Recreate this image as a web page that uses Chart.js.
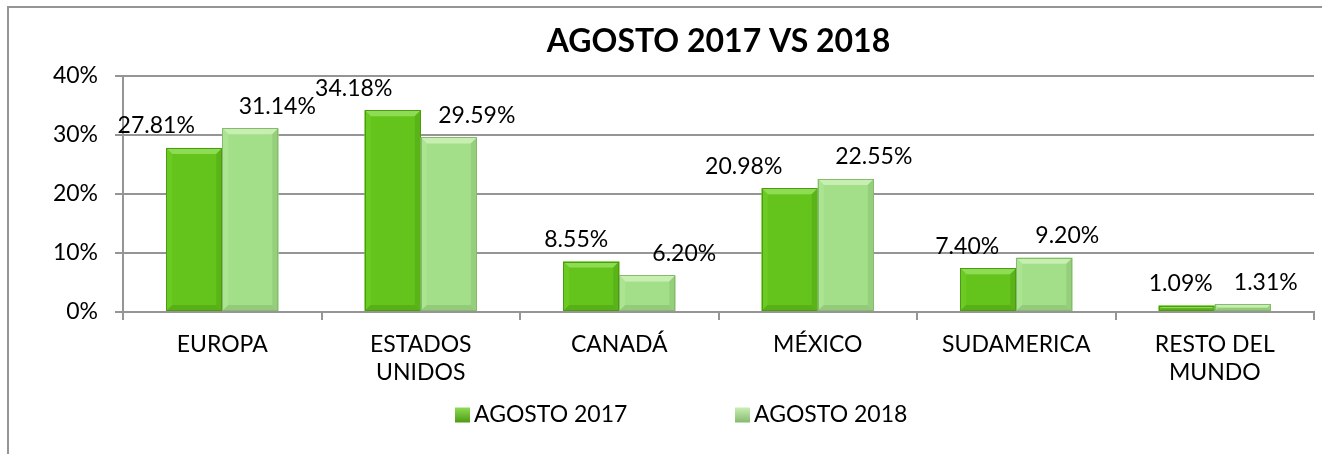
<!DOCTYPE html>
<html>
<head>
<meta charset="utf-8">
<script src="https://cdn.jsdelivr.net/npm/chart.js@4.4.1/dist/chart.umd.min.js"></script>
<style>
  html, body { margin: 0; padding: 0; background: #fff; }
  #wrap { width: 1322px; height: 454px; position: relative; }
</style>
</head>
<body>
<div id="wrap"><canvas id="chart" width="1322" height="454"></canvas></div>
<script>
const categories = ["EUROPA", ["ESTADOS", "UNIDOS"], "CANADÁ", "MÉXICO", "SUDAMERICA", ["RESTO DEL", "MUNDO"]];
const agosto2017 = [27.81, 34.18, 8.55, 20.98, 7.40, 1.09];
const agosto2018 = [31.14, 29.59, 6.20, 22.55, 9.20, 1.31];
const yTickValues = [0, 10, 20, 30, 40];
const seriesNames = ["AGOSTO 2017", "AGOSTO 2018"];

// excel moved the value labels by hand, these are the sideways nudges (px)
const labelNudge = [
    [-38, -39, -15, -46, -21, -6],
    [27, 28, 37, 28, 23, 23],
];

const GRID = "#959595";
const FONT = "Lato";

// colours for the bevelled bars: body, top, left, right, bottom, outline
const shades = [
    { body: "#64c41c", top: "#8edb54", left: "#6ccb23", right: "#5ab418", bottom: "#58b017", edge: "#4d9a13" },
    { body: "#a3df88", top: "#c8efb2", left: "#ace591", right: "#95cf7c", bottom: "#93cb7a", edge: "#88b970" },
];

Chart.defaults.font.family = FONT;
Chart.defaults.font.size = 23;
Chart.defaults.color = "#000";

const framePlugin = {
    id: "frame",
    beforeDraw(chart) {
        const { ctx, width, height } = chart;
        ctx.save();
        ctx.fillStyle = "#fff";
        ctx.fillRect(0, 0, width, height);
        ctx.strokeStyle = GRID;
        ctx.lineWidth = 2;
        ctx.beginPath();
        ctx.moveTo(8, height);
        ctx.lineTo(8, 7);
        ctx.lineTo(width, 7);
        ctx.stroke();
        ctx.restore();
    },
};

const bevelPlugin = {
    id: "bevel",
    afterDatasetsDraw(chart) {
        const ctx = chart.ctx;
        chart.data.datasets.forEach((ds, d) => {
            const s = shades[d];
            chart.getDatasetMeta(d).data.forEach((bar) => {
                const x0 = bar.x - bar.width / 2;
                const x1 = bar.x + bar.width / 2;
                const y0 = bar.y;
                const y1 = bar.base;
                const b = Math.min(6, (y1 - y0) / 2);
                ctx.save();
                ctx.fillStyle = s.body;
                ctx.fillRect(x0, y0, x1 - x0, y1 - y0);
                const poly = (pts, col) => {
                    ctx.fillStyle = col;
                    ctx.beginPath();
                    ctx.moveTo(pts[0][0], pts[0][1]);
                    pts.slice(1).forEach((p) => ctx.lineTo(p[0], p[1]));
                    ctx.closePath();
                    ctx.fill();
                };
                poly([[x0, y0], [x1, y0], [x1 - b, y0 + b], [x0 + b, y0 + b]], s.top);
                poly([[x0, y0], [x0 + b, y0 + b], [x0 + b, y1 - b], [x0, y1]], s.left);
                poly([[x1, y0], [x1, y1], [x1 - b, y1 - b], [x1 - b, y0 + b]], s.right);
                poly([[x0, y1], [x0 + b, y1 - b], [x1 - b, y1 - b], [x1, y1]], s.bottom);
                ctx.strokeStyle = s.edge;
                ctx.lineWidth = 1;
                ctx.strokeRect(Math.round(x0) + 0.5, Math.round(y0) + 0.5, Math.round(x1 - x0) - 1, Math.round(y1 - y0) - 1);
                ctx.restore();
            });
        });

        // value labels
        ctx.save();
        ctx.font = "23px " + FONT;
        ctx.fillStyle = "#000";
        ctx.textAlign = "center";
        ctx.textBaseline = "middle";
        chart.data.datasets.forEach((ds, d) => {
            chart.getDatasetMeta(d).data.forEach((bar, i) => {
                ctx.fillText(ds.data[i].toFixed(2) + "%", bar.x + labelNudge[d][i], bar.y - 22);
            });
        });
        ctx.restore();
    },
};

const legendPlugin = {
    id: "excelLegend",
    afterDraw(chart) {
        const ctx = chart.ctx;
        ctx.save();
        ctx.font = "23px " + FONT;
        ctx.textBaseline = "middle";
        const box = 15, gap = 4, pitch = 280;
        let x = chart.width / 2 - 206;
        const y = 415;
        seriesNames.forEach((name, d) => {
            const s = shades[d];
            const g = ctx.createLinearGradient(0, y - box / 2, 0, y + box / 2);
            g.addColorStop(0, s.top);
            g.addColorStop(1, s.edge);
            ctx.fillStyle = g;
            ctx.fillRect(x, y - box / 2, box, box);
            ctx.fillStyle = "#000";
            ctx.textAlign = "left";
            ctx.fillText(name, x + box + gap, y);
            x += pitch;
        });
        ctx.restore();
    },
};

new Chart(document.getElementById("chart"), {
    type: "bar",
    data: {
        labels: categories,
        datasets: [
            {
                label: seriesNames[0],
                data: agosto2017,
                backgroundColor: shades[0].body,
                categoryPercentage: 0.565,
                barPercentage: 1,
            },
            {
                label: seriesNames[1],
                data: agosto2018,
                backgroundColor: shades[1].body,
                categoryPercentage: 0.565,
                barPercentage: 1,
            },
        ],
    },
    options: {
        responsive: false,
        animation: false,
        layout: { padding: { left: 0, right: 8, top: 0, bottom: 0 } },
        plugins: {
            legend: { display: false },
            tooltip: { enabled: false },
            title: {
                display: true,
                text: "AGOSTO 2017 VS 2018",
                fullSize: false,
                font: { family: FONT, size: 32, weight: "bold" },
                color: "#000",
                padding: { top: 22, bottom: 15.6 },
            },
        },
        scales: {
            x: {
                grid: {
                    display: true,
                    drawOnChartArea: false,
                    drawTicks: true,
                    tickLength: 8,
                    color: GRID,
                    lineWidth: 2,
                    offset: true,
                },
                border: { color: GRID, width: 2 },
                ticks: { padding: 11, maxRotation: 0, autoSkip: false },
                afterFit(scale) {
                    scale.height = 142;
                },
            },
            y: {
                min: 0,
                max: 40,
                afterBuildTicks(scale) {
                    scale.ticks = yTickValues.map((v) => ({ value: v }));
                },
                ticks: {
                    padding: 17,
                    callback: (v) => v + "%",
                },
                grid: { color: GRID, lineWidth: 2, tickLength: 8 },
                border: { color: GRID, width: 2 },
                afterFit(scale) {
                    scale.width = 123;
                },
            },
        },
    },
    plugins: [framePlugin, bevelPlugin, legendPlugin],
});
</script>
</body>
</html>
